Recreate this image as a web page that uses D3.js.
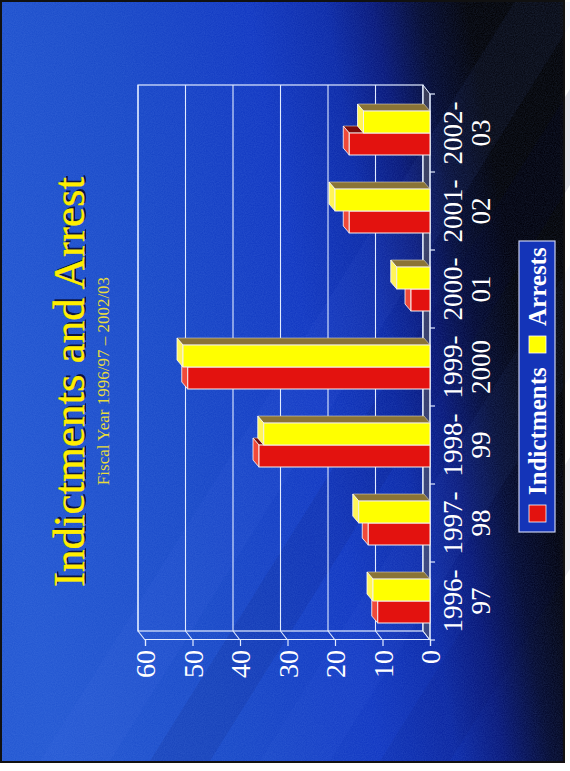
<!DOCTYPE html>
<html lang="en">
<head>
<meta charset="utf-8">
<script src="https://cdn.jsdelivr.net/npm/d3@7"></script>
<style>
  body { margin: 0; background: #ffffff; }
  svg { display: block; }
  text { font-family: "Liberation Serif", "Times New Roman", serif; }
</style>
</head>
<body>
<div id="chart"></div>
<script>
// data
var categories = ["1996-97", "1997-98", "1998-99", "1999-2000", "2000-01", "2001-02", "2002-03"];
var seriesNames = ["Indictments", "Arrests"];
var indictments = [11, 13, 36, 51, 4, 17, 17];
var arrests = [12, 15, 35, 52, 7, 20, 14];
var valueTicks = [0, 10, 20, 30, 40, 50, 60];

var W = 570, H = 771;          // page
var SW = 771, SH = 570;        // slide (drawn sideways)

var svg = d3.select("#chart").append("svg")
  .attr("width", W).attr("height", H);

var defs = svg.append("defs");

var bg = defs.append("linearGradient").attr("id", "bg")
  .attr("gradientUnits", "userSpaceOnUse")
  .attr("x1", 0).attr("y1", 430).attr("x2", 570).attr("y2", 330);
bg.append("stop").attr("offset", 0).attr("stop-color", "#2458d2");
bg.append("stop").attr("offset", 0.3).attr("stop-color", "#1a4ac8");
bg.append("stop").attr("offset", 0.55).attr("stop-color", "#1238c2");
bg.append("stop").attr("offset", 0.68).attr("stop-color", "#0c2aa8");
bg.append("stop").attr("offset", 0.76).attr("stop-color", "#08187a");
bg.append("stop").attr("offset", 0.84).attr("stop-color", "#040a30");
bg.append("stop").attr("offset", 0.92).attr("stop-color", "#020206");
bg.append("stop").attr("offset", 1).attr("stop-color", "#020204");

var grain = defs.append("filter").attr("id", "grain")
  .attr("x", 0).attr("y", 0).attr("width", 1).attr("height", 1);
grain.append("feTurbulence").attr("type", "fractalNoise")
  .attr("baseFrequency", 0.9).attr("numOctaves", 2).attr("seed", 3);
grain.append("feColorMatrix").attr("type", "matrix")
  .attr("values", "0 0 0 0 0.25  0 0 0 0 0.45  0 0 0 0 1  0 0 0 0.6 -0.1");

// background of the slide (page coords)
svg.append("rect").attr("x", 2).attr("y", 2).attr("width", 561).attr("height", 759)
  .attr("fill", "url(#bg)");

// soft diagonal bands
var bands = [
  {c: 40, w: 70, col: "#6090ff", op: 0.06},
  {c: 150, w: 60, col: "#000040", op: 0.10},
  {c: 260, w: 70, col: "#6090ff", op: 0.05},
  {c: 380, w: 70, col: "#000040", op: 0.07}
];
svg.append("g").selectAll("polygon").data(bands).enter()
  .append("polygon")
  .attr("points", function(d) {
    var x0 = d.c, x1 = d.c + d.w, dy = 759, dx = dy / 1.6;
    return [[x0, 761], [x1, 761], [x1 + dx, 761 - dy], [x0 + dx, 761 - dy]].join(" ");
  })
  .attr("fill", function(d) { return d.col; })
  .attr("opacity", function(d) { return d.op; });

svg.append("rect").attr("x", 2).attr("y", 2).attr("width", 561).attr("height", 759)
  .attr("filter", "url(#grain)").attr("opacity", 0.3);

svg.append("rect").attr("x", 1).attr("y", 1).attr("width", 563).attr("height", 761)
  .attr("fill", "none").attr("stroke", "#111").attr("stroke-width", 2);

// slide group, rotated a quarter turn
var g = svg.append("g").attr("transform", "translate(0," + H + ") rotate(-90)");

var plotL = 131, plotR = 677;
var depth = {x: 9, y: -7};
var barDepth = {x: 7, y: -6};

var x0 = d3.scaleBand().domain(categories).range([plotL, plotR]);
var x1 = d3.scaleBand().domain(seriesNames)
  .range([x0.bandwidth() * 17 / 78, x0.bandwidth() * 61 / 78]);
var y = d3.scaleLinear().domain([0, 60]).range([430, 145]);

var lineCol = "#e2ecff";

// back wall with gridlines
var wall = g.append("g");
wall.append("rect")
  .attr("x", plotL + depth.x).attr("y", y(60) + depth.y)
  .attr("width", plotR - plotL).attr("height", y(0) - y(60))
  .attr("fill", "none").attr("stroke", lineCol).attr("stroke-width", 1.2);
wall.selectAll("line.grid").data(valueTicks).enter().append("line")
  .attr("class", "grid")
  .attr("x1", plotL + depth.x).attr("x2", plotR + depth.x)
  .attr("y1", function(d) { return y(d) + depth.y; })
  .attr("y2", function(d) { return y(d) + depth.y; })
  .attr("stroke", lineCol).attr("stroke-width", 1.1);
wall.selectAll("line.side").data(valueTicks).enter().append("line")
  .attr("class", "side")
  .attr("x1", plotL + depth.x).attr("x2", plotL)
  .attr("y1", function(d) { return y(d) + depth.y; })
  .attr("y2", function(d) { return y(d); })
  .attr("stroke", lineCol).attr("stroke-width", 1.1);
// floor
wall.append("polygon")
  .attr("points", [[plotL, y(0)], [plotR, y(0)], [plotR + depth.x, y(0) + depth.y], [plotL + depth.x, y(0) + depth.y]].join(" "))
  .attr("fill", "#5a5a66").attr("fill-opacity", 0.6)
  .attr("stroke", lineCol).attr("stroke-width", 1);

// value axis on the front
var yAxis = g.append("g")
  .attr("transform", "translate(" + plotL + ",0)")
  .call(d3.axisLeft(y).tickValues(valueTicks).tickSize(6).tickPadding(4));
yAxis.select(".domain").attr("stroke", lineCol).attr("stroke-width", 1.2);
yAxis.selectAll(".tick line").attr("stroke", lineCol).attr("stroke-width", 1.2);
yAxis.selectAll(".tick text")
  .attr("fill", "#ffffff")
  .attr("font-family", "Liberation Serif")
  .attr("font-size", 28)
  .attr("dy", "0.34em");

// category axis ticks at band boundaries
var bounds = categories.map(function(c) { return x0(c); }).concat([plotR]);
g.append("line")
  .attr("x1", plotL).attr("x2", plotR).attr("y1", y(0)).attr("y2", y(0))
  .attr("stroke", lineCol).attr("stroke-width", 1.2);
g.selectAll("line.ctick").data(bounds).enter().append("line")
  .attr("class", "ctick")
  .attr("x1", function(d) { return d; }).attr("x2", function(d) { return d; })
  .attr("y1", y(0)).attr("y2", y(0) + 5)
  .attr("stroke", lineCol).attr("stroke-width", 1.2);

var catLabels = g.selectAll("text.cat").data(categories).enter().append("text")
  .attr("class", "cat")
  .attr("text-anchor", "middle")
  .attr("fill", "#ffffff")
  .attr("font-size", 27);
catLabels.append("tspan")
  .attr("x", function(d) { return x0(d) + x0.bandwidth() / 2; })
  .attr("y", 462)
  .text(function(d) { return d.split("-")[0] + "-"; });
catLabels.append("tspan")
  .attr("x", function(d) { return x0(d) + x0.bandwidth() / 2; })
  .attr("y", 490)
  .text(function(d) { return d.split("-")[1]; });

// 3D bars
var palette = {
  Indictments: {front: "#e3120f", top: "#f04a3a", side: "#7a0c0a"},
  Arrests: {front: "#ffff00", top: "#fff45a", side: "#8a7436"}
};
var barData = [];
categories.forEach(function(c, i) {
  barData.push({cat: c, key: "Indictments", value: indictments[i]});
  barData.push({cat: c, key: "Arrests", value: arrests[i]});
});

var bars = g.append("g").selectAll("g.bar").data(barData).enter().append("g").attr("class", "bar");
bars.each(function(d) {
  var s = d3.select(this);
  var a = x0(d.cat) + x1(d.key), b = a + x1.bandwidth();
  var t = y(d.value), base = y(0);
  var dx = barDepth.x, dy = barDepth.y;
  var col = palette[d.key];
  s.append("polygon")
    .attr("points", [[b, t], [b + dx, t + dy], [b + dx, base + dy], [b, base]].join(" "))
    .attr("fill", col.side).attr("stroke", "#d8d0c0").attr("stroke-width", 0.6);
  s.append("polygon")
    .attr("points", [[a, t], [b, t], [b + dx, t + dy], [a + dx, t + dy]].join(" "))
    .attr("fill", col.top).attr("stroke", "#ffffff").attr("stroke-width", 0.8);
  s.append("rect")
    .attr("x", a).attr("y", t).attr("width", b - a).attr("height", base - t)
    .attr("fill", col.front).attr("stroke", "#f4f0f0").attr("stroke-width", 1);
});

// title
var titleX = 389;
g.append("text")
  .attr("x", titleX + 2).attr("y", 86)
  .attr("text-anchor", "middle").attr("font-size", 45)
  .attr("fill", "#0a0a28").attr("opacity", 0.85)
  .text("Indictments and Arrest");
g.append("text")
  .attr("x", titleX).attr("y", 84)
  .attr("text-anchor", "middle").attr("font-size", 45)
  .attr("fill", "#ffee00").attr("stroke", "#ffee00").attr("stroke-width", 0.4)
  .text("Indictments and Arrest");
g.append("text")
  .attr("x", 390).attr("y", 109)
  .attr("text-anchor", "middle").attr("font-size", 17)
  .attr("fill", "#e8dc3c")
  .text("Fiscal Year 1996/97 \u2013 2002/03");

// legend
var legend = g.append("g");
legend.append("rect")
  .attr("x", 239).attr("y", 519).attr("width", 291).attr("height", 36)
  .attr("fill", "#1434b8").attr("stroke", "#c8d0f0").attr("stroke-width", 1.2);
var legendItems = [
  {key: "Indictments", sq: 249, tx: 276},
  {key: "Arrests", sq: 418, tx: 445}
];
legend.selectAll("rect.sw").data(legendItems).enter().append("rect")
  .attr("class", "sw")
  .attr("x", function(d) { return d.sq; }).attr("y", 529)
  .attr("width", 17).attr("height", 17)
  .attr("fill", function(d) { return palette[d.key].front; })
  .attr("stroke", "#ffffff").attr("stroke-width", 0.8);
legend.selectAll("text").data(legendItems).enter().append("text")
  .attr("x", function(d) { return d.tx; }).attr("y", 546)
  .attr("font-size", 25).attr("font-weight", "bold")
  .attr("fill", "#ffffff")
  .text(function(d) { return d.key; });
</script>
</body>
</html>
